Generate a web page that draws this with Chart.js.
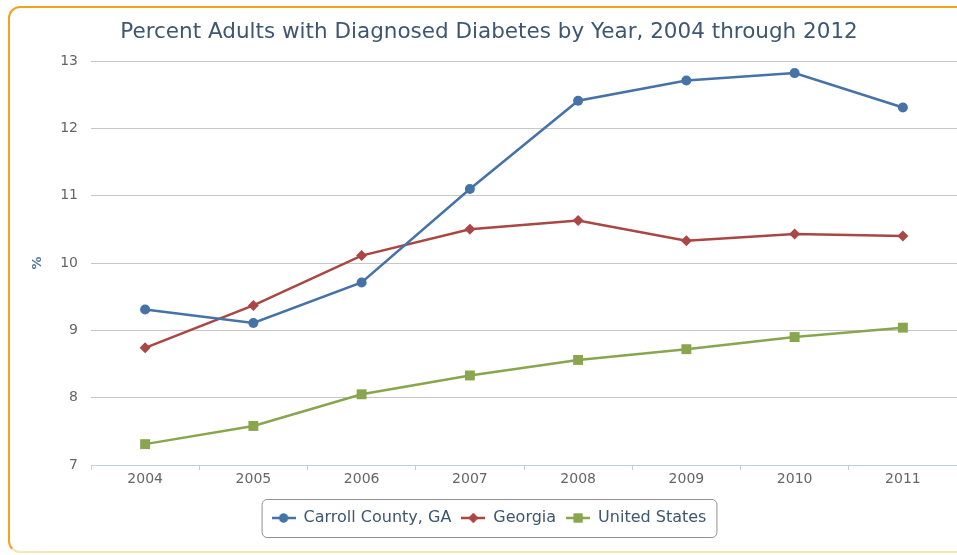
<!DOCTYPE html>
<html lang="en">
<head>
    <meta charset="UTF-8">
    <title>Percent Adults with Diagnosed Diabetes</title>
    <script src="https://cdn.jsdelivr.net/npm/chart.js"></script>
    <style>
        body {
            margin: 0;
            width: 957px;
            height: 555px;
            overflow: hidden;
            background: #fff;
            position: relative;
        }
        .frame {
            position: absolute;
            left: 8px;
            top: 6px;
            width: 1000px;
            height: 543px;
            border: 2px solid #f2a21b;
            border-bottom-color: #f7e6b5;
            border-radius: 12px;
        }
        .wrap {
            position: absolute;
            left: 0;
            top: 0;
            width: 978px;
            height: 555px;
        }
    </style>
</head>
<body>
    <div class="frame"></div>
    <div class="wrap"><canvas id="diabetesChart"></canvas></div>

    <script>
        // values
        const years = ['2004', '2005', '2006', '2007', '2008', '2009', '2010', '2011'];
        const carroll = [9.31, 9.11, 9.71, 11.1, 12.41, 12.71, 12.82, 12.31];
        const georgia = [8.74, 9.37, 10.11, 10.5, 10.63, 10.33, 10.43, 10.40];
        const unitedStates = [7.31, 7.58, 8.05, 8.33, 8.56, 8.72, 8.90, 9.04];
        const yMin = 7, yMax = 13, yStep = 1;

        const FONT = '"DejaVu Sans", "Lucida Grande", Verdana, sans-serif';
        const series = [
            { label: 'Carroll County, GA', data: carroll, color: '#4572A7', style: 'circle', radius: 5 },
            { label: 'Georgia', data: georgia, color: '#AA4643', style: 'rectRot', radius: 5.5 },
            { label: 'United States', data: unitedStates, color: '#89A54E', style: 'rect', radius: 7 }
        ];

        // small line + marker icon for the legend
        function legendIcon(s) {
            const c = document.createElement('canvas');
            c.width = 24;
            c.height = 12;
            const g = c.getContext('2d');
            g.strokeStyle = s.color;
            g.lineWidth = 2.5;
            g.beginPath();
            g.moveTo(0, 6);
            g.lineTo(24, 6);
            g.stroke();
            g.fillStyle = s.color;
            Chart.helpers.drawPoint(g, { pointStyle: s.style, radius: s.radius * 0.9, borderWidth: 0 }, 12, 6);
            g.fill();
            return c;
        }

        // rounded border round the legend items
        const legendBorder = {
            id: 'legendBorder',
            afterDraw(chart) {
                const boxes = chart.legend.legendHitBoxes;
                if (!boxes || !boxes.length) return;
                const left = Math.min(...boxes.map(b => b.left)) - 10;
                const right = Math.max(...boxes.map(b => b.left + b.width)) + 10;
                const top = boxes[0].top - 11;
                const h = 38;
                const ctx = chart.ctx;
                ctx.save();
                ctx.strokeStyle = '#909090';
                ctx.lineWidth = 1;
                ctx.beginPath();
                ctx.roundRect(left + 0.5, top + 0.5, right - left, h, 5);
                ctx.stroke();
                ctx.restore();
            }
        };

        new Chart(document.getElementById('diabetesChart'), {
            type: 'line',
            data: {
                labels: years,
                datasets: series.map(s => ({
                    label: s.label,
                    data: s.data,
                    borderColor: s.color,
                    backgroundColor: s.color,
                    borderWidth: 2.5,
                    pointStyle: s.style,
                    pointRadius: s.radius,
                    pointHoverRadius: s.radius,
                    pointBackgroundColor: s.color,
                    pointBorderWidth: 0,
                    tension: 0,
                    fill: false,
                    icon: legendIcon(s)
                }))
            },
            options: {
                responsive: true,
                maintainAspectRatio: false,
                animation: false,
                layout: { padding: { left: 21, right: 21, top: 0, bottom: 19 } },
                plugins: {
                    title: {
                        display: true,
                        text: 'Percent Adults with Diagnosed Diabetes by Year, 2004 through 2012',
                        color: '#3E576F',
                        font: { family: FONT, size: 21.5, weight: 'normal' },
                        padding: { top: 19.6, bottom: 15.6 }
                    },
                    legend: {
                        position: 'bottom',
                        labels: {
                            color: '#3E576F',
                            font: { family: FONT, size: 16 },
                            usePointStyle: true,
                            pointStyleWidth: 24,
                            padding: 10,
                            generateLabels(chart) {
                                return chart.data.datasets.map((d, i) => ({
                                    text: d.label,
                                    fontColor: '#3E576F',
                                    pointStyle: d.icon,
                                    fillStyle: d.borderColor,
                                    strokeStyle: d.borderColor,
                                    lineWidth: 0,
                                    hidden: false,
                                    datasetIndex: i
                                }));
                            }
                        }
                    },
                    tooltip: { enabled: false }
                },
                scales: {
                    x: {
                        offset: true,
                        afterFit(scale) { scale.height = 35; },
                        border: { display: true, color: '#C0D0E0', width: 1 },
                        grid: {
                            display: true,
                            offset: true,
                            drawOnChartArea: false,
                            drawTicks: true,
                            tickLength: 5,
                            color: '#C0D0E0'
                        },
                        ticks: {
                            color: '#666666',
                            font: { family: FONT, size: 14 },
                            padding: 1,
                            maxRotation: 0
                        }
                    },
                    y: {
                        min: yMin,
                        max: yMax,
                        afterFit(scale) { scale.width = 70; },
                        border: { display: false },
                        grid: { color: '#C8C8C8', lineWidth: 1, drawTicks: false },
                        ticks: {
                            stepSize: yStep,
                            color: '#666666',
                            font: { family: FONT, size: 14 },
                            padding: 13
                        },
                        title: {
                            display: true,
                            text: '%',
                            color: '#4D759E',
                            font: { family: FONT, size: 13, weight: 'bold' },
                            padding: { top: 9, bottom: 0 }
                        }
                    }
                }
            },
            plugins: [legendBorder]
        });
    </script>
</body>
</html>
